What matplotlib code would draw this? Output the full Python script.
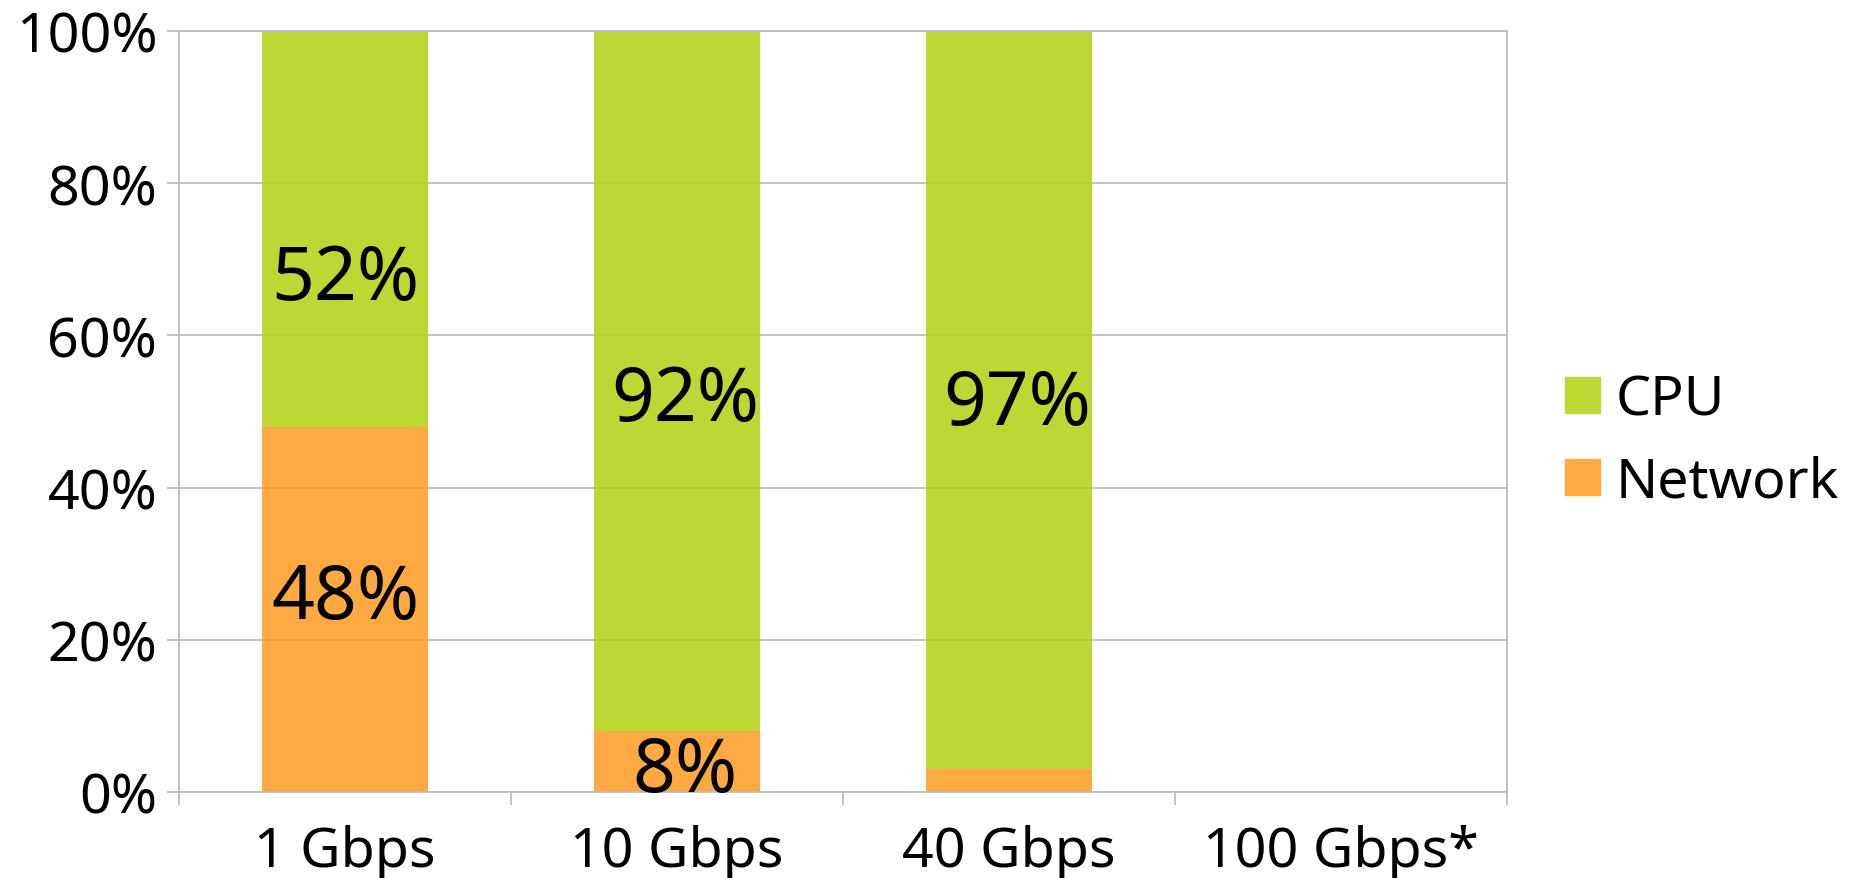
import matplotlib
matplotlib.use("Agg")
import matplotlib.pyplot as plt
import numpy as np
from matplotlib.patches import Patch
from matplotlib.ticker import FixedLocator, FuncFormatter

# Share of transfer time spent on network vs CPU, per link speed
categories = ["1 Gbps", "10 Gbps", "40 Gbps", "100 Gbps*"]
network = [48, 8, 3, 0]
cpu = [52, 92, 97, 0]
y_ticks = [0, 20, 40, 60, 80, 100]

plt.rcParams["font.family"] = ["Noto Sans", "DejaVu Sans"]

GRID = "#bdbdbd"
GREEN = np.array([190, 216, 52]) / 255
ORANGE = np.array([255, 169, 66]) / 255
ALPHA = 0.86


def see_through(rgb, alpha=ALPHA):
    """Face colour that shows as `rgb` over white when drawn with `alpha`."""
    return tuple(np.clip((rgb - (1 - alpha)) / alpha, 0, 1))


fig = plt.figure(figsize=(18.64, 8.79), dpi=100)
ax = fig.add_axes([179 / 1864, 1 - 793 / 879, (1507 - 179) / 1864, (793 - 32) / 879])

x = np.arange(len(categories))
width = 0.5
b_net = ax.bar(x, network, width, color=see_through(ORANGE), alpha=ALPHA,
               linewidth=0, zorder=2, label="Network")
b_cpu = ax.bar(x, cpu, width, bottom=network, color=see_through(GREEN), alpha=ALPHA,
               linewidth=0, zorder=2, label="CPU")

# Value labels inside the segments
label_nudge = {(0, "cpu"): -6.6, (0, "net"): 1.4, (1, "net"): -1.3, (1, "cpu"): -2.6,
               (2, "cpu"): -0.6}
x_nudge = [0.0, 0.025, 0.025, 0.0]
for i in range(len(categories)):
    if network[i] >= 5:
        yc = network[i] / 2 + label_nudge.get((i, "net"), 0)
        ax.text(x[i] + x_nudge[i], yc, f"{network[i]}%", ha="center", va="center",
                fontsize=54, color="black", zorder=4)
    if cpu[i] >= 5:
        yc = network[i] + cpu[i] / 2 + label_nudge.get((i, "cpu"), 0)
        ax.text(x[i] + x_nudge[i], yc, f"{cpu[i]}%", ha="center", va="center",
                fontsize=54, color="black", zorder=4)

ax.set_xlim(-0.5, len(categories) - 0.5)
ax.set_ylim(0, 100)

ax.yaxis.set_major_locator(FixedLocator(y_ticks))
ax.yaxis.set_major_formatter(FuncFormatter(lambda v, _: f"{v:.0f}%"))
ax.tick_params(axis="y", which="major", length=8.6, width=1.3, color=GRID,
               labelsize=40, pad=7)
ax.yaxis.grid(True, color=GRID, linewidth=1.3, zorder=1)
ax.set_axisbelow(True)

ax.set_xticks(x)
ax.set_xticklabels(categories)
ax.xaxis.set_minor_locator(FixedLocator(np.arange(len(categories) + 1) - 0.5))
ax.tick_params(axis="x", which="major", length=0, labelsize=40, pad=23)
ax.tick_params(axis="x", which="minor", length=9.4, width=1.3, color=GRID)

for side in ("left", "right", "top", "bottom"):
    ax.spines[side].set_color(GRID)
    ax.spines[side].set_linewidth(1.3)

handles = [Patch(color=tuple(GREEN)), Patch(color=tuple(ORANGE))]
fig.legend(handles, ["CPU", "Network"], loc="center left",
           bbox_to_anchor=(1565 / 1864, 1 - 442 / 879), frameon=False,
           fontsize=40, handlelength=0.63, handleheight=0.63,
           handletextpad=0.29, labelspacing=0.49, borderpad=0, borderaxespad=0)

fig.savefig("out.png", dpi=100, facecolor="white")
